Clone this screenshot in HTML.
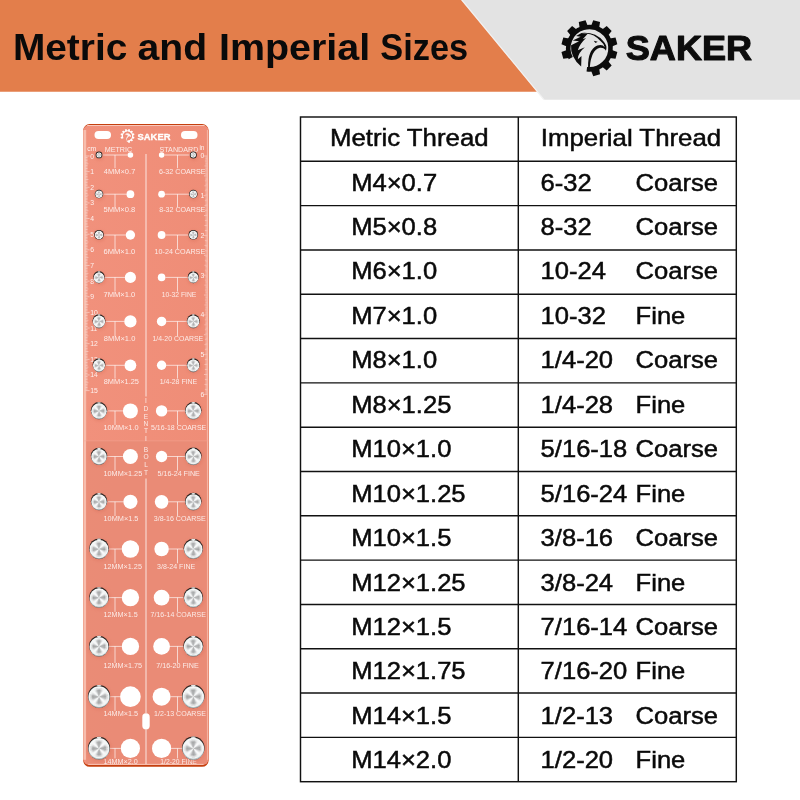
<!DOCTYPE html>
<html lang="en"><head><meta charset="utf-8"><title>Metric and Imperial Sizes</title>
<style>
html,body{margin:0;padding:0;background:#fff;}
body{width:800px;height:800px;overflow:hidden;position:relative;font-family:"Liberation Sans",sans-serif;}
svg{position:absolute;left:0;top:0;display:block;}
text{font-family:"Liberation Sans",sans-serif;}
</style></head><body>
<svg width="800" height="800" viewBox="0 0 800 800">
<defs>
<linearGradient id="pg" x1="0" y1="0" x2="1" y2="0"><stop offset="0" stop-color="#F1917C"/><stop offset="1" stop-color="#EF8D77"/></linearGradient>
<filter id="b1" x="-20%" y="-20%" width="140%" height="140%"><feGaussianBlur stdDeviation="0.35"/></filter>
<filter id="b2" x="-50%" y="-50%" width="200%" height="200%"><feGaussianBlur stdDeviation="1.6"/></filter>
</defs>
<rect width="800" height="800" fill="#fff"/>
<polygon points="461,0 800,0 800,99.8 543.4,99.8" fill="#E3E3E3"/>
<polygon points="0,0 461,0 536.8,91.7 0,91.7" fill="#E37E4B"/>
<line x1="461.9" y1="0" x2="544.2" y2="99.8" stroke="#fff" stroke-width="1.1" stroke-opacity="0.55"/>
<g id="title" font-size="36.5" font-weight="700" fill="#0a0a0a">
<text transform="translate(12.94 59.7) scale(1.0641 1)">Metric</text>
<text transform="translate(137.53 59.7) scale(1.0732 1)">and</text>
<text transform="translate(219.00 59.7) scale(1.0805 1)">Imperial</text>
<text transform="translate(380.36 59.7) scale(0.9410 1)">Sizes</text>
</g>
<g id="logo" fill="#0c0c0c">
<path d="M611.93,49.93 L617.34,52.05 L615.52,58.84 L609.78,57.97Z M608.05,60.97 L611.67,65.50 L606.70,70.47 L602.17,66.85Z M599.17,68.58 L600.04,74.32 L593.25,76.14 L591.13,70.73Z M569.02,57.97 L563.28,58.84 L561.46,52.05 L566.87,49.93Z M566.87,46.47 L561.46,44.35 L563.28,37.56 L569.02,38.43Z M570.75,35.43 L567.13,30.90 L572.10,25.93 L576.63,29.55Z M579.63,27.82 L578.76,22.08 L585.55,20.26 L587.67,25.67Z M591.13,25.67 L593.25,20.26 L600.04,22.08 L599.17,27.82Z M602.17,29.55 L606.70,25.93 L611.67,30.90 L608.05,35.43Z M609.78,38.43 L615.52,37.56 L617.34,44.35 L611.93,46.47Z"/>
<path d="M570.73,58.13 A21.15,21.15 0 1 1 586.82,69.19" fill="none" stroke="#0c0c0c" stroke-width="4.6"/>
<path d="M581.50,32.94 L576.07,36.00 L580.62,36.87 L572.75,40.55 L579.05,41.25 L571.08,45.18 Q569.95,56.56 581.15,66.62 L581.50,55.94 L577.82,59.27 Q577.65,53.50 584.82,47.37 L577.82,50.17 Q579.31,44.31 586.05,37.92 L582.72,39.15 L587.45,34.07 Z"/>
<path d="M581.06,32.94 Q595.49,31.62 603.37,41.25 Q607.74,45.62 605.99,50.87 Q604.24,47.37 599.87,47.81 Q591.12,50.00 589.81,67.49 L588.06,67.49 Q587.62,50.00 597.24,45.62 Q602.49,43.87 604.68,47.37 Q604.24,43.87 600.74,41.25 Q593.74,33.81 586.75,33.81 Z"/>
<path d="M593.74,40.81 L597.68,41.68 L595.49,43.00 Z"/>
</g>
<text id="saker" transform="translate(625.70 60.2) scale(1.0044 1)" font-size="36" font-weight="700" fill="#0c0c0c" stroke="#0c0c0c" stroke-width="1.1" stroke-linejoin="round">SAKER</text>
<g id="table" stroke="#111" stroke-width="1.45" fill="none">
<rect x="300.5" y="117.0" width="435.79999999999995" height="664.70"/>
<line x1="518.3" y1="117.0" x2="518.3" y2="781.70"/>
<line x1="300.5" y1="161.31" x2="736.3" y2="161.31"/>
<line x1="300.5" y1="205.63" x2="736.3" y2="205.63"/>
<line x1="300.5" y1="249.94" x2="736.3" y2="249.94"/>
<line x1="300.5" y1="294.25" x2="736.3" y2="294.25"/>
<line x1="300.5" y1="338.56" x2="736.3" y2="338.56"/>
<line x1="300.5" y1="382.88" x2="736.3" y2="382.88"/>
<line x1="300.5" y1="427.19" x2="736.3" y2="427.19"/>
<line x1="300.5" y1="471.50" x2="736.3" y2="471.50"/>
<line x1="300.5" y1="515.82" x2="736.3" y2="515.82"/>
<line x1="300.5" y1="560.13" x2="736.3" y2="560.13"/>
<line x1="300.5" y1="604.44" x2="736.3" y2="604.44"/>
<line x1="300.5" y1="648.76" x2="736.3" y2="648.76"/>
<line x1="300.5" y1="693.07" x2="736.3" y2="693.07"/>
<line x1="300.5" y1="737.38" x2="736.3" y2="737.38"/>
</g>
<g id="ttext" font-size="24.5" fill="#0a0a0a" stroke="#0a0a0a" stroke-width="0.5">
<text transform="translate(329.89 145.8) scale(1.0537 1)">Metric Thread</text>
<text transform="translate(540.83 145.8) scale(1.0547 1)">Imperial Thread</text>
<text transform="translate(351.16 190.50) scale(1.044 1)">M4×0.7</text>
<text transform="translate(540.60 190.50) scale(1.044 1)">6-32</text>
<text transform="translate(635.50 190.50) scale(1.044 1)">Coarse</text>
<text transform="translate(351.16 234.95) scale(1.044 1)">M5×0.8</text>
<text transform="translate(540.60 234.95) scale(1.044 1)">8-32</text>
<text transform="translate(635.50 234.95) scale(1.044 1)">Coarse</text>
<text transform="translate(351.16 279.40) scale(1.044 1)">M6×1.0</text>
<text transform="translate(540.60 279.40) scale(1.044 1)">10-24</text>
<text transform="translate(635.50 279.40) scale(1.044 1)">Coarse</text>
<text transform="translate(351.16 323.85) scale(1.044 1)">M7×1.0</text>
<text transform="translate(540.60 323.85) scale(1.044 1)">10-32</text>
<text transform="translate(635.61 323.85) scale(1.044 1)">Fine</text>
<text transform="translate(351.16 368.30) scale(1.044 1)">M8×1.0</text>
<text transform="translate(540.60 368.30) scale(1.044 1)">1/4-20</text>
<text transform="translate(635.50 368.30) scale(1.044 1)">Coarse</text>
<text transform="translate(351.16 412.75) scale(1.044 1)">M8×1.25</text>
<text transform="translate(540.60 412.75) scale(1.044 1)">1/4-28</text>
<text transform="translate(635.61 412.75) scale(1.044 1)">Fine</text>
<text transform="translate(351.16 457.20) scale(1.044 1)">M10×1.0</text>
<text transform="translate(540.60 457.20) scale(1.044 1)">5/16-18</text>
<text transform="translate(635.50 457.20) scale(1.044 1)">Coarse</text>
<text transform="translate(351.16 501.65) scale(1.044 1)">M10×1.25</text>
<text transform="translate(540.60 501.65) scale(1.044 1)">5/16-24</text>
<text transform="translate(635.61 501.65) scale(1.044 1)">Fine</text>
<text transform="translate(351.16 546.10) scale(1.044 1)">M10×1.5</text>
<text transform="translate(540.60 546.10) scale(1.044 1)">3/8-16</text>
<text transform="translate(635.50 546.10) scale(1.044 1)">Coarse</text>
<text transform="translate(351.16 590.55) scale(1.044 1)">M12×1.25</text>
<text transform="translate(540.60 590.55) scale(1.044 1)">3/8-24</text>
<text transform="translate(635.61 590.55) scale(1.044 1)">Fine</text>
<text transform="translate(351.16 635.00) scale(1.044 1)">M12×1.5</text>
<text transform="translate(540.60 635.00) scale(1.044 1)">7/16-14</text>
<text transform="translate(635.50 635.00) scale(1.044 1)">Coarse</text>
<text transform="translate(351.16 679.45) scale(1.044 1)">M12×1.75</text>
<text transform="translate(540.60 679.45) scale(1.044 1)">7/16-20</text>
<text transform="translate(635.61 679.45) scale(1.044 1)">Fine</text>
<text transform="translate(351.16 723.90) scale(1.044 1)">M14×1.5</text>
<text transform="translate(540.60 723.90) scale(1.044 1)">1/2-13</text>
<text transform="translate(635.50 723.90) scale(1.044 1)">Coarse</text>
<text transform="translate(351.16 768.35) scale(1.044 1)">M14×2.0</text>
<text transform="translate(540.60 768.35) scale(1.044 1)">1/2-20</text>
<text transform="translate(635.61 768.35) scale(1.044 1)">Fine</text>
</g>
<g id="gauge">
<rect x="83.2" y="124.0" width="125.40" height="642.80" rx="6.5" fill="#C5400F"/>
<rect x="83.2" y="125.0" width="125.40" height="640.00" rx="6" fill="url(#pg)"/>
<rect x="83.4" y="130.0" width="2.8" height="629.80" fill="#F8C4B6" opacity="0.85"/>
<rect x="206.9" y="130.0" width="1.0" height="629.80" fill="#F8C4B6" opacity="0.8"/>
<rect x="88.2" y="763.8" width="115.40" height="0.9" fill="#FBD9CF" opacity="0.9"/>
<rect x="87.2" y="125.0" width="117.40" height="0.9" fill="#FBD3C8" opacity="0.95"/>
<rect x="86.2" y="441" width="120.40" height="322.60" fill="#E98B76" opacity="0.85"/>
<rect x="83.2" y="440.5" width="125.40" height="0.8" fill="#F4A996" opacity="0.6"/>
<g fill="#fff">
<rect x="94.5" y="131" width="16.5" height="8" rx="4"/>
<rect x="181" y="131" width="16.5" height="8" rx="4"/>
<rect x="142.3" y="713.2" width="7.4" height="16.2" rx="3.7"/>
</g>
<g fill="#fff">
<path d="M132.29,136.37 L134.43,136.95 L133.98,138.64 L131.83,138.07Z M131.46,138.71 L133.03,140.29 L131.79,141.53 L130.21,139.96Z M129.57,140.33 L130.14,142.48 L128.45,142.93 L127.87,140.79Z M123.17,138.07 L121.02,138.64 L120.57,136.95 L122.71,136.37Z M122.71,135.63 L120.57,135.05 L121.02,133.36 L123.17,133.93Z M123.54,133.29 L121.97,131.71 L123.21,130.47 L124.79,132.04Z M125.43,131.67 L124.86,129.52 L126.55,129.07 L127.13,131.21Z M127.87,131.21 L128.45,129.07 L130.14,129.52 L129.57,131.67Z M130.21,132.04 L131.79,130.47 L133.03,131.71 L131.46,133.29Z M131.83,133.93 L133.98,133.36 L134.43,135.05 L132.29,135.63Z"/>
<path d="M122.91,138.44 A5.2,5.2 0 1 1 126.87,141.16" fill="none" stroke="#fff" stroke-width="1.1"/>
<path d="M124.9,134.5 q2.5,-2.5 5.4,0.2 q1.2,1.2 0.6,2.4 q-1.2,-1.4 -2.6,-0.4 q-1.6,1.4 -1.8,4.2 q-1,-3.4 1.6,-5.2 q-2,-1.4 -3.2,-1.2z" opacity="0.9"/>
</g>
<text id="psaker" transform="translate(137.56 139.5) scale(0.960 1)" font-size="9.8" font-weight="700" fill="#fff" stroke="#fff" stroke-width="0.3">SAKER</text>
<g stroke="#fff" stroke-opacity="0.72" stroke-width="0.9" fill="none">
<g stroke-width="1.5" stroke-opacity="0.52"><line x1="146.0" y1="154" x2="146.0" y2="396.5"/>
<line x1="146.0" y1="478.5" x2="146.0" y2="713"/>
<line x1="146.0" y1="729.5" x2="146.0" y2="764"/></g>
<line x1="102.4" y1="155.0" x2="127.6" y2="155.0"/>
<line x1="115.0" y1="155.0" x2="115.0" y2="168.2"/>
<line x1="164.3" y1="155.0" x2="189.8" y2="155.0"/>
<line x1="177.5" y1="155.0" x2="177.5" y2="168.2"/>
<line x1="103.2" y1="194.2" x2="126.5" y2="194.2"/>
<line x1="115.0" y1="194.2" x2="115.0" y2="207.1"/>
<line x1="165.0" y1="194.2" x2="189.1" y2="194.2"/>
<line x1="177.5" y1="194.2" x2="177.5" y2="207.1"/>
<line x1="103.8" y1="235.0" x2="125.7" y2="235.0"/>
<line x1="115.0" y1="235.0" x2="115.0" y2="249.0"/>
<line x1="165.5" y1="235.0" x2="188.5" y2="235.0"/>
<line x1="177.5" y1="235.0" x2="177.5" y2="249.0"/>
<line x1="104.7" y1="277.4" x2="124.8" y2="277.4"/>
<line x1="115.0" y1="277.4" x2="115.0" y2="291.6"/>
<line x1="165.4" y1="277.4" x2="187.8" y2="277.4"/>
<line x1="177.5" y1="277.4" x2="177.5" y2="291.6"/>
<line x1="105.5" y1="321.4" x2="124.2" y2="321.4"/>
<line x1="115.0" y1="321.4" x2="115.0" y2="336.1"/>
<line x1="166.3" y1="321.4" x2="186.8" y2="321.4"/>
<line x1="177.5" y1="321.4" x2="177.5" y2="336.1"/>
<line x1="105.4" y1="365.3" x2="124.5" y2="365.3"/>
<line x1="115.0" y1="365.3" x2="115.0" y2="378.6"/>
<line x1="166.3" y1="365.3" x2="186.8" y2="365.3"/>
<line x1="177.5" y1="365.3" x2="177.5" y2="378.6"/>
<line x1="107.2" y1="410.9" x2="122.9" y2="410.9"/>
<line x1="115.0" y1="410.9" x2="115.0" y2="425.1"/>
<line x1="167.3" y1="410.9" x2="185.0" y2="410.9"/>
<line x1="177.5" y1="410.9" x2="177.5" y2="425.1"/>
<line x1="107.2" y1="456.5" x2="122.9" y2="456.5"/>
<line x1="115.0" y1="456.5" x2="115.0" y2="470.7"/>
<line x1="167.3" y1="456.5" x2="185.0" y2="456.5"/>
<line x1="177.5" y1="456.5" x2="177.5" y2="470.7"/>
<line x1="107.2" y1="501.8" x2="123.3" y2="501.8"/>
<line x1="115.0" y1="501.8" x2="115.0" y2="516.0"/>
<line x1="168.4" y1="501.8" x2="185.0" y2="501.8"/>
<line x1="177.5" y1="501.8" x2="177.5" y2="516.0"/>
<line x1="108.9" y1="549.0" x2="121.7" y2="549.0"/>
<line x1="115.0" y1="549.0" x2="115.0" y2="563.3"/>
<line x1="168.8" y1="549.0" x2="183.6" y2="549.0"/>
<line x1="177.5" y1="549.0" x2="177.5" y2="563.3"/>
<line x1="108.9" y1="597.6" x2="121.7" y2="597.6"/>
<line x1="115.0" y1="597.6" x2="115.0" y2="611.9"/>
<line x1="169.4" y1="597.6" x2="183.6" y2="597.6"/>
<line x1="177.5" y1="597.6" x2="177.5" y2="611.9"/>
<line x1="109.0" y1="646.4" x2="121.7" y2="646.4"/>
<line x1="115.0" y1="646.4" x2="115.0" y2="663.0"/>
<line x1="170.0" y1="646.4" x2="183.3" y2="646.4"/>
<line x1="177.5" y1="646.4" x2="177.5" y2="663.0"/>
<line x1="110.1" y1="696.7" x2="120.1" y2="696.7"/>
<line x1="115.0" y1="696.7" x2="115.0" y2="711.0"/>
<line x1="170.6" y1="696.7" x2="182.0" y2="696.7"/>
<line x1="177.5" y1="696.7" x2="177.5" y2="711.0"/>
<line x1="110.0" y1="748.4" x2="120.8" y2="748.4"/>
<line x1="115.0" y1="748.4" x2="115.0" y2="758.4"/>
<line x1="171.2" y1="748.4" x2="182.0" y2="748.4"/>
<line x1="177.5" y1="748.4" x2="177.5" y2="758.4"/>
</g>
<g stroke="#fff" stroke-opacity="0.8" stroke-width="0.55">
<line x1="85.6" y1="156.00" x2="89.6" y2="156.00"/>
<line x1="85.6" y1="157.56" x2="87.6" y2="157.56"/>
<line x1="85.6" y1="159.13" x2="87.6" y2="159.13"/>
<line x1="85.6" y1="160.69" x2="87.6" y2="160.69"/>
<line x1="85.6" y1="162.26" x2="87.6" y2="162.26"/>
<line x1="85.6" y1="163.82" x2="88.4" y2="163.82"/>
<line x1="85.6" y1="165.38" x2="87.6" y2="165.38"/>
<line x1="85.6" y1="166.95" x2="87.6" y2="166.95"/>
<line x1="85.6" y1="168.51" x2="87.6" y2="168.51"/>
<line x1="85.6" y1="170.08" x2="87.6" y2="170.08"/>
<line x1="85.6" y1="171.64" x2="89.6" y2="171.64"/>
<line x1="85.6" y1="173.20" x2="87.6" y2="173.20"/>
<line x1="85.6" y1="174.77" x2="87.6" y2="174.77"/>
<line x1="85.6" y1="176.33" x2="87.6" y2="176.33"/>
<line x1="85.6" y1="177.90" x2="87.6" y2="177.90"/>
<line x1="85.6" y1="179.46" x2="88.4" y2="179.46"/>
<line x1="85.6" y1="181.02" x2="87.6" y2="181.02"/>
<line x1="85.6" y1="182.59" x2="87.6" y2="182.59"/>
<line x1="85.6" y1="184.15" x2="87.6" y2="184.15"/>
<line x1="85.6" y1="185.72" x2="87.6" y2="185.72"/>
<line x1="85.6" y1="187.28" x2="89.6" y2="187.28"/>
<line x1="85.6" y1="188.84" x2="87.6" y2="188.84"/>
<line x1="85.6" y1="190.41" x2="87.6" y2="190.41"/>
<line x1="85.6" y1="191.97" x2="87.6" y2="191.97"/>
<line x1="85.6" y1="193.54" x2="87.6" y2="193.54"/>
<line x1="85.6" y1="195.10" x2="88.4" y2="195.10"/>
<line x1="85.6" y1="196.66" x2="87.6" y2="196.66"/>
<line x1="85.6" y1="198.23" x2="87.6" y2="198.23"/>
<line x1="85.6" y1="199.79" x2="87.6" y2="199.79"/>
<line x1="85.6" y1="201.36" x2="87.6" y2="201.36"/>
<line x1="85.6" y1="202.92" x2="89.6" y2="202.92"/>
<line x1="85.6" y1="204.48" x2="87.6" y2="204.48"/>
<line x1="85.6" y1="206.05" x2="87.6" y2="206.05"/>
<line x1="85.6" y1="207.61" x2="87.6" y2="207.61"/>
<line x1="85.6" y1="209.18" x2="87.6" y2="209.18"/>
<line x1="85.6" y1="210.74" x2="88.4" y2="210.74"/>
<line x1="85.6" y1="212.30" x2="87.6" y2="212.30"/>
<line x1="85.6" y1="213.87" x2="87.6" y2="213.87"/>
<line x1="85.6" y1="215.43" x2="87.6" y2="215.43"/>
<line x1="85.6" y1="217.00" x2="87.6" y2="217.00"/>
<line x1="85.6" y1="218.56" x2="89.6" y2="218.56"/>
<line x1="85.6" y1="220.12" x2="87.6" y2="220.12"/>
<line x1="85.6" y1="221.69" x2="87.6" y2="221.69"/>
<line x1="85.6" y1="223.25" x2="87.6" y2="223.25"/>
<line x1="85.6" y1="224.82" x2="87.6" y2="224.82"/>
<line x1="85.6" y1="226.38" x2="88.4" y2="226.38"/>
<line x1="85.6" y1="227.94" x2="87.6" y2="227.94"/>
<line x1="85.6" y1="229.51" x2="87.6" y2="229.51"/>
<line x1="85.6" y1="231.07" x2="87.6" y2="231.07"/>
<line x1="85.6" y1="232.64" x2="87.6" y2="232.64"/>
<line x1="85.6" y1="234.20" x2="89.6" y2="234.20"/>
<line x1="85.6" y1="235.76" x2="87.6" y2="235.76"/>
<line x1="85.6" y1="237.33" x2="87.6" y2="237.33"/>
<line x1="85.6" y1="238.89" x2="87.6" y2="238.89"/>
<line x1="85.6" y1="240.46" x2="87.6" y2="240.46"/>
<line x1="85.6" y1="242.02" x2="88.4" y2="242.02"/>
<line x1="85.6" y1="243.58" x2="87.6" y2="243.58"/>
<line x1="85.6" y1="245.15" x2="87.6" y2="245.15"/>
<line x1="85.6" y1="246.71" x2="87.6" y2="246.71"/>
<line x1="85.6" y1="248.28" x2="87.6" y2="248.28"/>
<line x1="85.6" y1="249.84" x2="89.6" y2="249.84"/>
<line x1="85.6" y1="251.40" x2="87.6" y2="251.40"/>
<line x1="85.6" y1="252.97" x2="87.6" y2="252.97"/>
<line x1="85.6" y1="254.53" x2="87.6" y2="254.53"/>
<line x1="85.6" y1="256.10" x2="87.6" y2="256.10"/>
<line x1="85.6" y1="257.66" x2="88.4" y2="257.66"/>
<line x1="85.6" y1="259.22" x2="87.6" y2="259.22"/>
<line x1="85.6" y1="260.79" x2="87.6" y2="260.79"/>
<line x1="85.6" y1="262.35" x2="87.6" y2="262.35"/>
<line x1="85.6" y1="263.92" x2="87.6" y2="263.92"/>
<line x1="85.6" y1="265.48" x2="89.6" y2="265.48"/>
<line x1="85.6" y1="267.04" x2="87.6" y2="267.04"/>
<line x1="85.6" y1="268.61" x2="87.6" y2="268.61"/>
<line x1="85.6" y1="270.17" x2="87.6" y2="270.17"/>
<line x1="85.6" y1="271.74" x2="87.6" y2="271.74"/>
<line x1="85.6" y1="273.30" x2="88.4" y2="273.30"/>
<line x1="85.6" y1="274.86" x2="87.6" y2="274.86"/>
<line x1="85.6" y1="276.43" x2="87.6" y2="276.43"/>
<line x1="85.6" y1="277.99" x2="87.6" y2="277.99"/>
<line x1="85.6" y1="279.56" x2="87.6" y2="279.56"/>
<line x1="85.6" y1="281.12" x2="89.6" y2="281.12"/>
<line x1="85.6" y1="282.68" x2="87.6" y2="282.68"/>
<line x1="85.6" y1="284.25" x2="87.6" y2="284.25"/>
<line x1="85.6" y1="285.81" x2="87.6" y2="285.81"/>
<line x1="85.6" y1="287.38" x2="87.6" y2="287.38"/>
<line x1="85.6" y1="288.94" x2="88.4" y2="288.94"/>
<line x1="85.6" y1="290.50" x2="87.6" y2="290.50"/>
<line x1="85.6" y1="292.07" x2="87.6" y2="292.07"/>
<line x1="85.6" y1="293.63" x2="87.6" y2="293.63"/>
<line x1="85.6" y1="295.20" x2="87.6" y2="295.20"/>
<line x1="85.6" y1="296.76" x2="89.6" y2="296.76"/>
<line x1="85.6" y1="298.32" x2="87.6" y2="298.32"/>
<line x1="85.6" y1="299.89" x2="87.6" y2="299.89"/>
<line x1="85.6" y1="301.45" x2="87.6" y2="301.45"/>
<line x1="85.6" y1="303.02" x2="87.6" y2="303.02"/>
<line x1="85.6" y1="304.58" x2="88.4" y2="304.58"/>
<line x1="85.6" y1="306.14" x2="87.6" y2="306.14"/>
<line x1="85.6" y1="307.71" x2="87.6" y2="307.71"/>
<line x1="85.6" y1="309.27" x2="87.6" y2="309.27"/>
<line x1="85.6" y1="310.84" x2="87.6" y2="310.84"/>
<line x1="85.6" y1="312.40" x2="89.6" y2="312.40"/>
<line x1="85.6" y1="313.96" x2="87.6" y2="313.96"/>
<line x1="85.6" y1="315.53" x2="87.6" y2="315.53"/>
<line x1="85.6" y1="317.09" x2="87.6" y2="317.09"/>
<line x1="85.6" y1="318.66" x2="87.6" y2="318.66"/>
<line x1="85.6" y1="320.22" x2="88.4" y2="320.22"/>
<line x1="85.6" y1="321.78" x2="87.6" y2="321.78"/>
<line x1="85.6" y1="323.35" x2="87.6" y2="323.35"/>
<line x1="85.6" y1="324.91" x2="87.6" y2="324.91"/>
<line x1="85.6" y1="326.48" x2="87.6" y2="326.48"/>
<line x1="85.6" y1="328.04" x2="89.6" y2="328.04"/>
<line x1="85.6" y1="329.60" x2="87.6" y2="329.60"/>
<line x1="85.6" y1="331.17" x2="87.6" y2="331.17"/>
<line x1="85.6" y1="332.73" x2="87.6" y2="332.73"/>
<line x1="85.6" y1="334.30" x2="87.6" y2="334.30"/>
<line x1="85.6" y1="335.86" x2="88.4" y2="335.86"/>
<line x1="85.6" y1="337.42" x2="87.6" y2="337.42"/>
<line x1="85.6" y1="338.99" x2="87.6" y2="338.99"/>
<line x1="85.6" y1="340.55" x2="87.6" y2="340.55"/>
<line x1="85.6" y1="342.12" x2="87.6" y2="342.12"/>
<line x1="85.6" y1="343.68" x2="89.6" y2="343.68"/>
<line x1="85.6" y1="345.24" x2="87.6" y2="345.24"/>
<line x1="85.6" y1="346.81" x2="87.6" y2="346.81"/>
<line x1="85.6" y1="348.37" x2="87.6" y2="348.37"/>
<line x1="85.6" y1="349.94" x2="87.6" y2="349.94"/>
<line x1="85.6" y1="351.50" x2="88.4" y2="351.50"/>
<line x1="85.6" y1="353.06" x2="87.6" y2="353.06"/>
<line x1="85.6" y1="354.63" x2="87.6" y2="354.63"/>
<line x1="85.6" y1="356.19" x2="87.6" y2="356.19"/>
<line x1="85.6" y1="357.76" x2="87.6" y2="357.76"/>
<line x1="85.6" y1="359.32" x2="89.6" y2="359.32"/>
<line x1="85.6" y1="360.88" x2="87.6" y2="360.88"/>
<line x1="85.6" y1="362.45" x2="87.6" y2="362.45"/>
<line x1="85.6" y1="364.01" x2="87.6" y2="364.01"/>
<line x1="85.6" y1="365.58" x2="87.6" y2="365.58"/>
<line x1="85.6" y1="367.14" x2="88.4" y2="367.14"/>
<line x1="85.6" y1="368.70" x2="87.6" y2="368.70"/>
<line x1="85.6" y1="370.27" x2="87.6" y2="370.27"/>
<line x1="85.6" y1="371.83" x2="87.6" y2="371.83"/>
<line x1="85.6" y1="373.40" x2="87.6" y2="373.40"/>
<line x1="85.6" y1="374.96" x2="89.6" y2="374.96"/>
<line x1="85.6" y1="376.52" x2="87.6" y2="376.52"/>
<line x1="85.6" y1="378.09" x2="87.6" y2="378.09"/>
<line x1="85.6" y1="379.65" x2="87.6" y2="379.65"/>
<line x1="85.6" y1="381.22" x2="87.6" y2="381.22"/>
<line x1="85.6" y1="382.78" x2="88.4" y2="382.78"/>
<line x1="85.6" y1="384.34" x2="87.6" y2="384.34"/>
<line x1="85.6" y1="385.91" x2="87.6" y2="385.91"/>
<line x1="85.6" y1="387.47" x2="87.6" y2="387.47"/>
<line x1="85.6" y1="389.04" x2="87.6" y2="389.04"/>
<line x1="85.6" y1="390.60" x2="89.6" y2="390.60"/>
<line x1="203.5" y1="156.00" x2="207.3" y2="156.00"/>
<line x1="205.4" y1="157.24" x2="207.3" y2="157.24" stroke-width="0.45"/>
<line x1="205.4" y1="158.48" x2="207.3" y2="158.48" stroke-width="0.45"/>
<line x1="205.4" y1="159.72" x2="207.3" y2="159.72" stroke-width="0.45"/>
<line x1="204.9" y1="160.97" x2="207.3" y2="160.97"/>
<line x1="205.4" y1="162.21" x2="207.3" y2="162.21" stroke-width="0.45"/>
<line x1="205.4" y1="163.45" x2="207.3" y2="163.45" stroke-width="0.45"/>
<line x1="205.4" y1="164.69" x2="207.3" y2="164.69" stroke-width="0.45"/>
<line x1="204.5" y1="165.93" x2="207.3" y2="165.93"/>
<line x1="205.4" y1="167.17" x2="207.3" y2="167.17" stroke-width="0.45"/>
<line x1="205.4" y1="168.41" x2="207.3" y2="168.41" stroke-width="0.45"/>
<line x1="205.4" y1="169.66" x2="207.3" y2="169.66" stroke-width="0.45"/>
<line x1="204.9" y1="170.90" x2="207.3" y2="170.90"/>
<line x1="205.4" y1="172.14" x2="207.3" y2="172.14" stroke-width="0.45"/>
<line x1="205.4" y1="173.38" x2="207.3" y2="173.38" stroke-width="0.45"/>
<line x1="205.4" y1="174.62" x2="207.3" y2="174.62" stroke-width="0.45"/>
<line x1="204.0" y1="175.86" x2="207.3" y2="175.86"/>
<line x1="205.4" y1="177.10" x2="207.3" y2="177.10" stroke-width="0.45"/>
<line x1="205.4" y1="178.35" x2="207.3" y2="178.35" stroke-width="0.45"/>
<line x1="205.4" y1="179.59" x2="207.3" y2="179.59" stroke-width="0.45"/>
<line x1="204.9" y1="180.83" x2="207.3" y2="180.83"/>
<line x1="205.4" y1="182.07" x2="207.3" y2="182.07" stroke-width="0.45"/>
<line x1="205.4" y1="183.31" x2="207.3" y2="183.31" stroke-width="0.45"/>
<line x1="205.4" y1="184.55" x2="207.3" y2="184.55" stroke-width="0.45"/>
<line x1="204.5" y1="185.79" x2="207.3" y2="185.79"/>
<line x1="205.4" y1="187.04" x2="207.3" y2="187.04" stroke-width="0.45"/>
<line x1="205.4" y1="188.28" x2="207.3" y2="188.28" stroke-width="0.45"/>
<line x1="205.4" y1="189.52" x2="207.3" y2="189.52" stroke-width="0.45"/>
<line x1="204.9" y1="190.76" x2="207.3" y2="190.76"/>
<line x1="205.4" y1="192.00" x2="207.3" y2="192.00" stroke-width="0.45"/>
<line x1="205.4" y1="193.24" x2="207.3" y2="193.24" stroke-width="0.45"/>
<line x1="205.4" y1="194.48" x2="207.3" y2="194.48" stroke-width="0.45"/>
<line x1="203.5" y1="195.73" x2="207.3" y2="195.73"/>
<line x1="205.4" y1="196.97" x2="207.3" y2="196.97" stroke-width="0.45"/>
<line x1="205.4" y1="198.21" x2="207.3" y2="198.21" stroke-width="0.45"/>
<line x1="205.4" y1="199.45" x2="207.3" y2="199.45" stroke-width="0.45"/>
<line x1="204.9" y1="200.69" x2="207.3" y2="200.69"/>
<line x1="205.4" y1="201.93" x2="207.3" y2="201.93" stroke-width="0.45"/>
<line x1="205.4" y1="203.17" x2="207.3" y2="203.17" stroke-width="0.45"/>
<line x1="205.4" y1="204.42" x2="207.3" y2="204.42" stroke-width="0.45"/>
<line x1="204.5" y1="205.66" x2="207.3" y2="205.66"/>
<line x1="205.4" y1="206.90" x2="207.3" y2="206.90" stroke-width="0.45"/>
<line x1="205.4" y1="208.14" x2="207.3" y2="208.14" stroke-width="0.45"/>
<line x1="205.4" y1="209.38" x2="207.3" y2="209.38" stroke-width="0.45"/>
<line x1="204.9" y1="210.62" x2="207.3" y2="210.62"/>
<line x1="205.4" y1="211.86" x2="207.3" y2="211.86" stroke-width="0.45"/>
<line x1="205.4" y1="213.11" x2="207.3" y2="213.11" stroke-width="0.45"/>
<line x1="205.4" y1="214.35" x2="207.3" y2="214.35" stroke-width="0.45"/>
<line x1="204.0" y1="215.59" x2="207.3" y2="215.59"/>
<line x1="205.4" y1="216.83" x2="207.3" y2="216.83" stroke-width="0.45"/>
<line x1="205.4" y1="218.07" x2="207.3" y2="218.07" stroke-width="0.45"/>
<line x1="205.4" y1="219.31" x2="207.3" y2="219.31" stroke-width="0.45"/>
<line x1="204.9" y1="220.55" x2="207.3" y2="220.55"/>
<line x1="205.4" y1="221.80" x2="207.3" y2="221.80" stroke-width="0.45"/>
<line x1="205.4" y1="223.04" x2="207.3" y2="223.04" stroke-width="0.45"/>
<line x1="205.4" y1="224.28" x2="207.3" y2="224.28" stroke-width="0.45"/>
<line x1="204.5" y1="225.52" x2="207.3" y2="225.52"/>
<line x1="205.4" y1="226.76" x2="207.3" y2="226.76" stroke-width="0.45"/>
<line x1="205.4" y1="228.00" x2="207.3" y2="228.00" stroke-width="0.45"/>
<line x1="205.4" y1="229.24" x2="207.3" y2="229.24" stroke-width="0.45"/>
<line x1="204.9" y1="230.49" x2="207.3" y2="230.49"/>
<line x1="205.4" y1="231.73" x2="207.3" y2="231.73" stroke-width="0.45"/>
<line x1="205.4" y1="232.97" x2="207.3" y2="232.97" stroke-width="0.45"/>
<line x1="205.4" y1="234.21" x2="207.3" y2="234.21" stroke-width="0.45"/>
<line x1="203.5" y1="235.45" x2="207.3" y2="235.45"/>
<line x1="205.4" y1="236.69" x2="207.3" y2="236.69" stroke-width="0.45"/>
<line x1="205.4" y1="237.93" x2="207.3" y2="237.93" stroke-width="0.45"/>
<line x1="205.4" y1="239.18" x2="207.3" y2="239.18" stroke-width="0.45"/>
<line x1="204.9" y1="240.42" x2="207.3" y2="240.42"/>
<line x1="205.4" y1="241.66" x2="207.3" y2="241.66" stroke-width="0.45"/>
<line x1="205.4" y1="242.90" x2="207.3" y2="242.90" stroke-width="0.45"/>
<line x1="205.4" y1="244.14" x2="207.3" y2="244.14" stroke-width="0.45"/>
<line x1="204.5" y1="245.38" x2="207.3" y2="245.38"/>
<line x1="205.4" y1="246.62" x2="207.3" y2="246.62" stroke-width="0.45"/>
<line x1="205.4" y1="247.87" x2="207.3" y2="247.87" stroke-width="0.45"/>
<line x1="205.4" y1="249.11" x2="207.3" y2="249.11" stroke-width="0.45"/>
<line x1="204.9" y1="250.35" x2="207.3" y2="250.35"/>
<line x1="205.4" y1="251.59" x2="207.3" y2="251.59" stroke-width="0.45"/>
<line x1="205.4" y1="252.83" x2="207.3" y2="252.83" stroke-width="0.45"/>
<line x1="205.4" y1="254.07" x2="207.3" y2="254.07" stroke-width="0.45"/>
<line x1="204.0" y1="255.31" x2="207.3" y2="255.31"/>
<line x1="205.4" y1="256.56" x2="207.3" y2="256.56" stroke-width="0.45"/>
<line x1="205.4" y1="257.80" x2="207.3" y2="257.80" stroke-width="0.45"/>
<line x1="205.4" y1="259.04" x2="207.3" y2="259.04" stroke-width="0.45"/>
<line x1="204.9" y1="260.28" x2="207.3" y2="260.28"/>
<line x1="205.4" y1="261.52" x2="207.3" y2="261.52" stroke-width="0.45"/>
<line x1="205.4" y1="262.76" x2="207.3" y2="262.76" stroke-width="0.45"/>
<line x1="205.4" y1="264.00" x2="207.3" y2="264.00" stroke-width="0.45"/>
<line x1="204.5" y1="265.25" x2="207.3" y2="265.25"/>
<line x1="205.4" y1="266.49" x2="207.3" y2="266.49" stroke-width="0.45"/>
<line x1="205.4" y1="267.73" x2="207.3" y2="267.73" stroke-width="0.45"/>
<line x1="205.4" y1="268.97" x2="207.3" y2="268.97" stroke-width="0.45"/>
<line x1="204.9" y1="270.21" x2="207.3" y2="270.21"/>
<line x1="205.4" y1="271.45" x2="207.3" y2="271.45" stroke-width="0.45"/>
<line x1="205.4" y1="272.69" x2="207.3" y2="272.69" stroke-width="0.45"/>
<line x1="205.4" y1="273.94" x2="207.3" y2="273.94" stroke-width="0.45"/>
<line x1="203.5" y1="275.18" x2="207.3" y2="275.18"/>
<line x1="205.4" y1="276.42" x2="207.3" y2="276.42" stroke-width="0.45"/>
<line x1="205.4" y1="277.66" x2="207.3" y2="277.66" stroke-width="0.45"/>
<line x1="205.4" y1="278.90" x2="207.3" y2="278.90" stroke-width="0.45"/>
<line x1="204.9" y1="280.14" x2="207.3" y2="280.14"/>
<line x1="205.4" y1="281.38" x2="207.3" y2="281.38" stroke-width="0.45"/>
<line x1="205.4" y1="282.63" x2="207.3" y2="282.63" stroke-width="0.45"/>
<line x1="205.4" y1="283.87" x2="207.3" y2="283.87" stroke-width="0.45"/>
<line x1="204.5" y1="285.11" x2="207.3" y2="285.11"/>
<line x1="205.4" y1="286.35" x2="207.3" y2="286.35" stroke-width="0.45"/>
<line x1="205.4" y1="287.59" x2="207.3" y2="287.59" stroke-width="0.45"/>
<line x1="205.4" y1="288.83" x2="207.3" y2="288.83" stroke-width="0.45"/>
<line x1="204.9" y1="290.07" x2="207.3" y2="290.07"/>
<line x1="205.4" y1="291.32" x2="207.3" y2="291.32" stroke-width="0.45"/>
<line x1="205.4" y1="292.56" x2="207.3" y2="292.56" stroke-width="0.45"/>
<line x1="205.4" y1="293.80" x2="207.3" y2="293.80" stroke-width="0.45"/>
<line x1="204.0" y1="295.04" x2="207.3" y2="295.04"/>
<line x1="205.4" y1="296.28" x2="207.3" y2="296.28" stroke-width="0.45"/>
<line x1="205.4" y1="297.52" x2="207.3" y2="297.52" stroke-width="0.45"/>
<line x1="205.4" y1="298.76" x2="207.3" y2="298.76" stroke-width="0.45"/>
<line x1="204.9" y1="300.01" x2="207.3" y2="300.01"/>
<line x1="205.4" y1="301.25" x2="207.3" y2="301.25" stroke-width="0.45"/>
<line x1="205.4" y1="302.49" x2="207.3" y2="302.49" stroke-width="0.45"/>
<line x1="205.4" y1="303.73" x2="207.3" y2="303.73" stroke-width="0.45"/>
<line x1="204.5" y1="304.97" x2="207.3" y2="304.97"/>
<line x1="205.4" y1="306.21" x2="207.3" y2="306.21" stroke-width="0.45"/>
<line x1="205.4" y1="307.45" x2="207.3" y2="307.45" stroke-width="0.45"/>
<line x1="205.4" y1="308.70" x2="207.3" y2="308.70" stroke-width="0.45"/>
<line x1="204.9" y1="309.94" x2="207.3" y2="309.94"/>
<line x1="205.4" y1="311.18" x2="207.3" y2="311.18" stroke-width="0.45"/>
<line x1="205.4" y1="312.42" x2="207.3" y2="312.42" stroke-width="0.45"/>
<line x1="205.4" y1="313.66" x2="207.3" y2="313.66" stroke-width="0.45"/>
<line x1="203.5" y1="314.90" x2="207.3" y2="314.90"/>
<line x1="205.4" y1="316.14" x2="207.3" y2="316.14" stroke-width="0.45"/>
<line x1="205.4" y1="317.39" x2="207.3" y2="317.39" stroke-width="0.45"/>
<line x1="205.4" y1="318.63" x2="207.3" y2="318.63" stroke-width="0.45"/>
<line x1="204.9" y1="319.87" x2="207.3" y2="319.87"/>
<line x1="205.4" y1="321.11" x2="207.3" y2="321.11" stroke-width="0.45"/>
<line x1="205.4" y1="322.35" x2="207.3" y2="322.35" stroke-width="0.45"/>
<line x1="205.4" y1="323.59" x2="207.3" y2="323.59" stroke-width="0.45"/>
<line x1="204.5" y1="324.83" x2="207.3" y2="324.83"/>
<line x1="205.4" y1="326.08" x2="207.3" y2="326.08" stroke-width="0.45"/>
<line x1="205.4" y1="327.32" x2="207.3" y2="327.32" stroke-width="0.45"/>
<line x1="205.4" y1="328.56" x2="207.3" y2="328.56" stroke-width="0.45"/>
<line x1="204.9" y1="329.80" x2="207.3" y2="329.80"/>
<line x1="205.4" y1="331.04" x2="207.3" y2="331.04" stroke-width="0.45"/>
<line x1="205.4" y1="332.28" x2="207.3" y2="332.28" stroke-width="0.45"/>
<line x1="205.4" y1="333.52" x2="207.3" y2="333.52" stroke-width="0.45"/>
<line x1="204.0" y1="334.77" x2="207.3" y2="334.77"/>
<line x1="205.4" y1="336.01" x2="207.3" y2="336.01" stroke-width="0.45"/>
<line x1="205.4" y1="337.25" x2="207.3" y2="337.25" stroke-width="0.45"/>
<line x1="205.4" y1="338.49" x2="207.3" y2="338.49" stroke-width="0.45"/>
<line x1="204.9" y1="339.73" x2="207.3" y2="339.73"/>
<line x1="205.4" y1="340.97" x2="207.3" y2="340.97" stroke-width="0.45"/>
<line x1="205.4" y1="342.21" x2="207.3" y2="342.21" stroke-width="0.45"/>
<line x1="205.4" y1="343.46" x2="207.3" y2="343.46" stroke-width="0.45"/>
<line x1="204.5" y1="344.70" x2="207.3" y2="344.70"/>
<line x1="205.4" y1="345.94" x2="207.3" y2="345.94" stroke-width="0.45"/>
<line x1="205.4" y1="347.18" x2="207.3" y2="347.18" stroke-width="0.45"/>
<line x1="205.4" y1="348.42" x2="207.3" y2="348.42" stroke-width="0.45"/>
<line x1="204.9" y1="349.66" x2="207.3" y2="349.66"/>
<line x1="205.4" y1="350.90" x2="207.3" y2="350.90" stroke-width="0.45"/>
<line x1="205.4" y1="352.15" x2="207.3" y2="352.15" stroke-width="0.45"/>
<line x1="205.4" y1="353.39" x2="207.3" y2="353.39" stroke-width="0.45"/>
<line x1="203.5" y1="354.63" x2="207.3" y2="354.63"/>
<line x1="205.4" y1="355.87" x2="207.3" y2="355.87" stroke-width="0.45"/>
<line x1="205.4" y1="357.11" x2="207.3" y2="357.11" stroke-width="0.45"/>
<line x1="205.4" y1="358.35" x2="207.3" y2="358.35" stroke-width="0.45"/>
<line x1="204.9" y1="359.59" x2="207.3" y2="359.59"/>
<line x1="205.4" y1="360.84" x2="207.3" y2="360.84" stroke-width="0.45"/>
<line x1="205.4" y1="362.08" x2="207.3" y2="362.08" stroke-width="0.45"/>
<line x1="205.4" y1="363.32" x2="207.3" y2="363.32" stroke-width="0.45"/>
<line x1="204.5" y1="364.56" x2="207.3" y2="364.56"/>
<line x1="205.4" y1="365.80" x2="207.3" y2="365.80" stroke-width="0.45"/>
<line x1="205.4" y1="367.04" x2="207.3" y2="367.04" stroke-width="0.45"/>
<line x1="205.4" y1="368.28" x2="207.3" y2="368.28" stroke-width="0.45"/>
<line x1="204.9" y1="369.53" x2="207.3" y2="369.53"/>
<line x1="205.4" y1="370.77" x2="207.3" y2="370.77" stroke-width="0.45"/>
<line x1="205.4" y1="372.01" x2="207.3" y2="372.01" stroke-width="0.45"/>
<line x1="205.4" y1="373.25" x2="207.3" y2="373.25" stroke-width="0.45"/>
<line x1="204.0" y1="374.49" x2="207.3" y2="374.49"/>
<line x1="205.4" y1="375.73" x2="207.3" y2="375.73" stroke-width="0.45"/>
<line x1="205.4" y1="376.97" x2="207.3" y2="376.97" stroke-width="0.45"/>
<line x1="205.4" y1="378.22" x2="207.3" y2="378.22" stroke-width="0.45"/>
<line x1="204.9" y1="379.46" x2="207.3" y2="379.46"/>
<line x1="205.4" y1="380.70" x2="207.3" y2="380.70" stroke-width="0.45"/>
<line x1="205.4" y1="381.94" x2="207.3" y2="381.94" stroke-width="0.45"/>
<line x1="205.4" y1="383.18" x2="207.3" y2="383.18" stroke-width="0.45"/>
<line x1="204.5" y1="384.42" x2="207.3" y2="384.42"/>
<line x1="205.4" y1="385.66" x2="207.3" y2="385.66" stroke-width="0.45"/>
<line x1="205.4" y1="386.91" x2="207.3" y2="386.91" stroke-width="0.45"/>
<line x1="205.4" y1="388.15" x2="207.3" y2="388.15" stroke-width="0.45"/>
<line x1="204.9" y1="389.39" x2="207.3" y2="389.39"/>
<line x1="205.4" y1="390.63" x2="207.3" y2="390.63" stroke-width="0.45"/>
<line x1="205.4" y1="391.87" x2="207.3" y2="391.87" stroke-width="0.45"/>
<line x1="205.4" y1="393.11" x2="207.3" y2="393.11" stroke-width="0.45"/>
<line x1="203.5" y1="394.35" x2="207.3" y2="394.35"/>
</g>
<g fill="#fff" fill-opacity="0.88" font-size="6.8">
<text x="87.2" y="151.3" font-size="6.8">cm</text>
<text x="199.4" y="149.9" font-size="6.4">in</text>
<text x="90.2" y="158.50">0</text>
<text x="90.2" y="174.14">1</text>
<text x="90.2" y="189.78">2</text>
<text x="90.2" y="205.42">3</text>
<text x="90.2" y="221.06">4</text>
<text x="90.2" y="236.70">5</text>
<text x="90.2" y="252.34">6</text>
<text x="90.2" y="267.98">7</text>
<text x="90.2" y="283.62">8</text>
<text x="90.2" y="299.26">9</text>
<text x="90.2" y="314.90">10</text>
<text x="90.2" y="330.54">11</text>
<text x="90.2" y="346.18">12</text>
<text x="90.2" y="361.82">13</text>
<text x="90.2" y="377.46">14</text>
<text x="90.2" y="393.10">15</text>
<text x="200.4" y="158.40">0</text>
<text x="200.4" y="198.13">1</text>
<text x="200.4" y="237.85">2</text>
<text x="200.4" y="277.58">3</text>
<text x="200.4" y="317.30">4</text>
<text x="200.4" y="357.03">5</text>
<text x="200.4" y="396.75">6</text>
</g>
<g fill="#fff" fill-opacity="0.82" font-size="7.3" id="glabels" filter="url(#b1)">
<text transform="translate(104.71 151.80) scale(0.985 1)">METRIC</text>
<text transform="translate(159.51 151.80) scale(0.981 1)">STANDARD</text>
<text transform="translate(103.74 173.50) scale(1.033 1)">4MM×0.7</text>
<text transform="translate(159.01 173.50) scale(0.978 1)">6-32 COARSE</text>
<text transform="translate(103.48 212.40) scale(1.042 1)">5MM×0.8</text>
<text transform="translate(159.26 212.40) scale(0.973 1)">8-32 COARSE</text>
<text transform="translate(103.48 254.30) scale(1.042 1)">6MM×1.0</text>
<text transform="translate(154.51 254.30) scale(0.985 1)">10-24 COARSE</text>
<text transform="translate(103.48 296.90) scale(1.042 1)">7MM×1.0</text>
<text transform="translate(161.74 296.90) scale(0.929 1)">10-32 FINE</text>
<text transform="translate(103.74 341.40) scale(1.033 1)">8MM×1.0</text>
<text transform="translate(152.43 341.40) scale(0.950 1)">1/4-20 COARSE</text>
<text transform="translate(103.75 383.90) scale(1.015 1)">8MM×1.25</text>
<text transform="translate(159.72 383.90) scale(0.956 1)">1/4-28 FINE</text>
<text transform="translate(103.49 430.40) scale(1.015 1)">10MM×1.0</text>
<text transform="translate(151.02 430.40) scale(0.960 1)">5/16-18 COARSE</text>
<text transform="translate(103.50 476.00) scale(1.000 1)">10MM×1.25</text>
<text transform="translate(157.51 476.00) scale(0.976 1)">5/16-24 FINE</text>
<text transform="translate(103.50 521.30) scale(1.007 1)">10MM×1.5</text>
<text transform="translate(153.76 521.30) scale(0.972 1)">3/8-16 COARSE</text>
<text transform="translate(103.50 568.60) scale(0.992 1)">12MM×1.25</text>
<text transform="translate(157.06 568.60) scale(0.970 1)">3/8-24 FINE</text>
<text transform="translate(103.51 617.20) scale(0.987 1)">12MM×1.5</text>
<text transform="translate(150.62 617.20) scale(0.960 1)">7/16-14 COARSE</text>
<text transform="translate(103.50 668.30) scale(0.997 1)">12MM×1.75</text>
<text transform="translate(156.21 668.30) scale(0.981 1)">7/16-20 FINE</text>
<text transform="translate(103.50 716.30) scale(0.999 1)">14MM×1.5</text>
<text transform="translate(154.12 716.30) scale(0.967 1)">1/2-13 COARSE</text>
<text transform="translate(103.50 763.70) scale(0.991 1)">14MM×2.0</text>
<text transform="translate(160.34 763.70) scale(0.930 1)">1/2-20 FINE</text>
<text x="146.0" y="403.2" font-size="6.6" text-anchor="middle">I</text>
<text x="146.0" y="411.2" font-size="6.6" text-anchor="middle">D</text>
<text x="146.0" y="418.5" font-size="6.6" text-anchor="middle">E</text>
<text x="146.0" y="425.8" font-size="6.6" text-anchor="middle">N</text>
<text x="146.0" y="432.9" font-size="6.6" text-anchor="middle">T</text>
<text x="146.0" y="441.2" font-size="6.6" text-anchor="middle">I</text>
<text x="146.0" y="452.2" font-size="6.6" text-anchor="middle">B</text>
<text x="146.0" y="459.4" font-size="6.6" text-anchor="middle">O</text>
<text x="146.0" y="467.2" font-size="6.6" text-anchor="middle">L</text>
<text x="146.0" y="474.8" font-size="6.6" text-anchor="middle">T</text>
</g>
<g fill="#fff">
<circle cx="130.4" cy="155.0" r="2.8"/>
<circle cx="161.6" cy="155.0" r="2.75"/>
<circle cx="130.4" cy="194.2" r="3.9"/>
<circle cx="161.6" cy="194.2" r="3.4"/>
<circle cx="130.4" cy="235.0" r="4.7"/>
<circle cx="161.6" cy="235.0" r="3.9"/>
<circle cx="130.4" cy="277.4" r="5.6"/>
<circle cx="161.6" cy="277.4" r="3.8"/>
<circle cx="130.4" cy="321.4" r="6.15"/>
<circle cx="161.6" cy="321.4" r="4.75"/>
<circle cx="130.4" cy="365.3" r="5.9"/>
<circle cx="161.6" cy="365.3" r="4.7"/>
<circle cx="130.4" cy="410.9" r="7.5"/>
<circle cx="161.6" cy="410.9" r="5.7"/>
<circle cx="130.4" cy="456.5" r="7.5"/>
<circle cx="161.6" cy="456.5" r="5.7"/>
<circle cx="130.4" cy="501.8" r="7.1"/>
<circle cx="161.6" cy="501.8" r="6.85"/>
<circle cx="130.4" cy="549.0" r="8.7"/>
<circle cx="161.6" cy="549.0" r="7.25"/>
<circle cx="130.4" cy="597.6" r="8.7"/>
<circle cx="161.6" cy="597.6" r="7.85"/>
<circle cx="130.4" cy="646.4" r="8.7"/>
<circle cx="161.6" cy="646.4" r="8.4"/>
<circle cx="130.4" cy="696.7" r="10.35"/>
<circle cx="161.6" cy="696.7" r="9.0"/>
<circle cx="130.4" cy="748.4" r="9.6"/>
<circle cx="161.6" cy="748.4" r="9.6"/>
</g>
<g fill="#D9705A" opacity="0.35" filter="url(#b2)">
<circle cx="99.5" cy="156.0" r="4.6"/>
<circle cx="193.8" cy="156.0" r="4.7"/>
<circle cx="99.5" cy="195.2" r="5.5"/>
<circle cx="193.8" cy="195.2" r="5.5"/>
<circle cx="99.5" cy="236.0" r="6.0"/>
<circle cx="193.8" cy="236.0" r="6.0"/>
<circle cx="99.5" cy="278.4" r="6.9"/>
<circle cx="193.8" cy="278.4" r="6.7"/>
<circle cx="99.5" cy="322.4" r="7.7"/>
<circle cx="193.8" cy="322.4" r="7.7"/>
<circle cx="99.5" cy="366.3" r="7.6"/>
<circle cx="193.8" cy="366.3" r="7.7"/>
<circle cx="99.5" cy="411.9" r="9.4"/>
<circle cx="193.8" cy="411.9" r="9.5"/>
<circle cx="99.5" cy="457.5" r="9.4"/>
<circle cx="193.8" cy="457.5" r="9.5"/>
<circle cx="99.5" cy="502.8" r="9.4"/>
<circle cx="193.8" cy="502.8" r="9.5"/>
<circle cx="99.5" cy="550.0" r="11.1"/>
<circle cx="193.8" cy="550.0" r="10.9"/>
<circle cx="99.5" cy="598.6" r="11.1"/>
<circle cx="193.8" cy="598.6" r="10.9"/>
<circle cx="99.5" cy="647.4" r="11.2"/>
<circle cx="193.8" cy="647.4" r="11.2"/>
<circle cx="99.5" cy="697.7" r="12.3"/>
<circle cx="193.8" cy="697.7" r="12.5"/>
<circle cx="99.5" cy="749.4" r="12.2"/>
<circle cx="193.8" cy="749.4" r="12.5"/>
</g>
<defs>
<radialGradient id="rimg" cx="0.5" cy="0.47" r="0.5"><stop offset="0.82" stop-color="#f6f8f8"/><stop offset="0.93" stop-color="#eef2f2"/><stop offset="1" stop-color="#b4c2c5"/></radialGradient>
<radialGradient id="fedge" cx="0.5" cy="0.5" r="0.5"><stop offset="0" stop-color="#f4f6f6" stop-opacity="0.55"/><stop offset="0.12" stop-color="#f4f6f6" stop-opacity="0"/><stop offset="0.72" stop-color="#f4f6f6" stop-opacity="0"/><stop offset="1" stop-color="#f4f6f6" stop-opacity="1"/></radialGradient>
<g id="scr">
<circle cx="0" cy="0" r="10" fill="url(#rimg)"/>
<g transform="translate(0 -0.25)">
<path d="M0,0 L8.00,0.00 A8.0,8.0 0 0 1 7.95,0.93Z" fill="rgb(150,151,152)"/>
<path d="M0,0 L7.96,0.84 A8.0,8.0 0 0 1 7.80,1.76Z" fill="rgb(156,157,158)"/>
<path d="M0,0 L7.83,1.66 A8.0,8.0 0 0 1 7.58,2.56Z" fill="rgb(169,170,171)"/>
<path d="M0,0 L7.61,2.47 A8.0,8.0 0 0 1 7.27,3.34Z" fill="rgb(188,189,190)"/>
<path d="M0,0 L7.31,3.25 A8.0,8.0 0 0 1 6.88,4.08Z" fill="rgb(210,211,212)"/>
<path d="M0,0 L6.93,4.00 A8.0,8.0 0 0 1 6.42,4.78Z" fill="rgb(231,232,233)"/>
<path d="M0,0 L6.47,4.70 A8.0,8.0 0 0 1 5.88,5.42Z" fill="rgb(245,246,247)"/>
<path d="M0,0 L5.95,5.35 A8.0,8.0 0 0 1 5.28,6.01Z" fill="rgb(250,251,252)"/>
<path d="M0,0 L5.35,5.95 A8.0,8.0 0 0 1 4.62,6.53Z" fill="rgb(244,245,246)"/>
<path d="M0,0 L4.70,6.47 A8.0,8.0 0 0 1 3.92,6.98Z" fill="rgb(229,230,231)"/>
<path d="M0,0 L4.00,6.93 A8.0,8.0 0 0 1 3.17,7.35Z" fill="rgb(208,209,210)"/>
<path d="M0,0 L3.25,7.31 A8.0,8.0 0 0 1 2.38,7.64Z" fill="rgb(185,186,187)"/>
<path d="M0,0 L2.47,7.61 A8.0,8.0 0 0 1 1.57,7.84Z" fill="rgb(167,168,169)"/>
<path d="M0,0 L1.66,7.83 A8.0,8.0 0 0 1 0.74,7.97Z" fill="rgb(155,156,157)"/>
<path d="M0,0 L0.84,7.96 A8.0,8.0 0 0 1 -0.10,8.00Z" fill="rgb(150,151,152)"/>
<path d="M0,0 L0.00,8.00 A8.0,8.0 0 0 1 -0.93,7.95Z" fill="rgb(150,151,152)"/>
<path d="M0,0 L-0.84,7.96 A8.0,8.0 0 0 1 -1.76,7.80Z" fill="rgb(156,157,158)"/>
<path d="M0,0 L-1.66,7.83 A8.0,8.0 0 0 1 -2.56,7.58Z" fill="rgb(169,170,171)"/>
<path d="M0,0 L-2.47,7.61 A8.0,8.0 0 0 1 -3.34,7.27Z" fill="rgb(188,189,190)"/>
<path d="M0,0 L-3.25,7.31 A8.0,8.0 0 0 1 -4.08,6.88Z" fill="rgb(210,211,212)"/>
<path d="M0,0 L-4.00,6.93 A8.0,8.0 0 0 1 -4.78,6.42Z" fill="rgb(231,232,233)"/>
<path d="M0,0 L-4.70,6.47 A8.0,8.0 0 0 1 -5.42,5.88Z" fill="rgb(245,246,247)"/>
<path d="M0,0 L-5.35,5.95 A8.0,8.0 0 0 1 -6.01,5.28Z" fill="rgb(250,251,252)"/>
<path d="M0,0 L-5.95,5.35 A8.0,8.0 0 0 1 -6.53,4.62Z" fill="rgb(244,245,246)"/>
<path d="M0,0 L-6.47,4.70 A8.0,8.0 0 0 1 -6.98,3.92Z" fill="rgb(229,230,231)"/>
<path d="M0,0 L-6.93,4.00 A8.0,8.0 0 0 1 -7.35,3.17Z" fill="rgb(208,209,210)"/>
<path d="M0,0 L-7.31,3.25 A8.0,8.0 0 0 1 -7.64,2.38Z" fill="rgb(185,186,187)"/>
<path d="M0,0 L-7.61,2.47 A8.0,8.0 0 0 1 -7.84,1.57Z" fill="rgb(167,168,169)"/>
<path d="M0,0 L-7.83,1.66 A8.0,8.0 0 0 1 -7.97,0.74Z" fill="rgb(155,156,157)"/>
<path d="M0,0 L-7.96,0.84 A8.0,8.0 0 0 1 -8.00,-0.10Z" fill="rgb(150,151,152)"/>
<path d="M0,0 L-8.00,0.00 A8.0,8.0 0 0 1 -7.95,-0.93Z" fill="rgb(150,151,152)"/>
<path d="M0,0 L-7.96,-0.84 A8.0,8.0 0 0 1 -7.80,-1.76Z" fill="rgb(156,157,158)"/>
<path d="M0,0 L-7.83,-1.66 A8.0,8.0 0 0 1 -7.58,-2.56Z" fill="rgb(169,170,171)"/>
<path d="M0,0 L-7.61,-2.47 A8.0,8.0 0 0 1 -7.27,-3.34Z" fill="rgb(188,189,190)"/>
<path d="M0,0 L-7.31,-3.25 A8.0,8.0 0 0 1 -6.88,-4.08Z" fill="rgb(210,211,212)"/>
<path d="M0,0 L-6.93,-4.00 A8.0,8.0 0 0 1 -6.42,-4.78Z" fill="rgb(231,232,233)"/>
<path d="M0,0 L-6.47,-4.70 A8.0,8.0 0 0 1 -5.88,-5.42Z" fill="rgb(245,246,247)"/>
<path d="M0,0 L-5.95,-5.35 A8.0,8.0 0 0 1 -5.28,-6.01Z" fill="rgb(250,251,252)"/>
<path d="M0,0 L-5.35,-5.95 A8.0,8.0 0 0 1 -4.62,-6.53Z" fill="rgb(244,245,246)"/>
<path d="M0,0 L-4.70,-6.47 A8.0,8.0 0 0 1 -3.92,-6.98Z" fill="rgb(229,230,231)"/>
<path d="M0,0 L-4.00,-6.93 A8.0,8.0 0 0 1 -3.17,-7.35Z" fill="rgb(208,209,210)"/>
<path d="M0,0 L-3.25,-7.31 A8.0,8.0 0 0 1 -2.38,-7.64Z" fill="rgb(185,186,187)"/>
<path d="M0,0 L-2.47,-7.61 A8.0,8.0 0 0 1 -1.57,-7.84Z" fill="rgb(167,168,169)"/>
<path d="M0,0 L-1.66,-7.83 A8.0,8.0 0 0 1 -0.74,-7.97Z" fill="rgb(155,156,157)"/>
<path d="M0,0 L-0.84,-7.96 A8.0,8.0 0 0 1 0.10,-8.00Z" fill="rgb(150,151,152)"/>
<path d="M0,0 L-0.00,-8.00 A8.0,8.0 0 0 1 0.93,-7.95Z" fill="rgb(150,151,152)"/>
<path d="M0,0 L0.84,-7.96 A8.0,8.0 0 0 1 1.76,-7.80Z" fill="rgb(156,157,158)"/>
<path d="M0,0 L1.66,-7.83 A8.0,8.0 0 0 1 2.56,-7.58Z" fill="rgb(169,170,171)"/>
<path d="M0,0 L2.47,-7.61 A8.0,8.0 0 0 1 3.34,-7.27Z" fill="rgb(188,189,190)"/>
<path d="M0,0 L3.25,-7.31 A8.0,8.0 0 0 1 4.08,-6.88Z" fill="rgb(210,211,212)"/>
<path d="M0,0 L4.00,-6.93 A8.0,8.0 0 0 1 4.78,-6.42Z" fill="rgb(231,232,233)"/>
<path d="M0,0 L4.70,-6.47 A8.0,8.0 0 0 1 5.42,-5.88Z" fill="rgb(245,246,247)"/>
<path d="M0,0 L5.35,-5.95 A8.0,8.0 0 0 1 6.01,-5.28Z" fill="rgb(250,251,252)"/>
<path d="M0,0 L5.95,-5.35 A8.0,8.0 0 0 1 6.53,-4.62Z" fill="rgb(244,245,246)"/>
<path d="M0,0 L6.47,-4.70 A8.0,8.0 0 0 1 6.98,-3.92Z" fill="rgb(229,230,231)"/>
<path d="M0,0 L6.93,-4.00 A8.0,8.0 0 0 1 7.35,-3.17Z" fill="rgb(208,209,210)"/>
<path d="M0,0 L7.31,-3.25 A8.0,8.0 0 0 1 7.64,-2.38Z" fill="rgb(185,186,187)"/>
<path d="M0,0 L7.61,-2.47 A8.0,8.0 0 0 1 7.84,-1.57Z" fill="rgb(167,168,169)"/>
<path d="M0,0 L7.83,-1.66 A8.0,8.0 0 0 1 7.97,-0.74Z" fill="rgb(155,156,157)"/>
<path d="M0,0 L7.96,-0.84 A8.0,8.0 0 0 1 8.00,0.10Z" fill="rgb(150,151,152)"/>
<circle cx="0" cy="0" r="8.15" fill="url(#fedge)"/>
</g>
</g>
</defs>
<circle cx="99.0" cy="154.90" r="3.40" fill="#2b2320"/>
<use href="#scr" transform="translate(99.0 155.00) scale(0.260)"/>
<circle cx="193.3" cy="154.90" r="3.50" fill="#2b2320"/>
<use href="#scr" transform="translate(193.3 155.00) scale(0.270)"/>
<circle cx="99.0" cy="193.95" r="4.25" fill="#2b2320"/>
<use href="#scr" transform="translate(99.0 194.30) scale(0.370)"/>
<circle cx="193.3" cy="193.95" r="4.25" fill="#2b2320"/>
<use href="#scr" transform="translate(193.3 194.30) scale(0.370)"/>
<circle cx="99.0" cy="234.75" r="4.80" fill="#2b2320"/>
<use href="#scr" transform="translate(99.0 235.10) scale(0.425)"/>
<circle cx="193.3" cy="234.75" r="4.80" fill="#2b2320"/>
<use href="#scr" transform="translate(193.3 235.10) scale(0.425)"/>
<circle cx="99.0" cy="276.75" r="5.70" fill="#2b2320"/>
<path d="M102.57,281.65 A5.55,5.55 0 0 1 95.43,281.65" fill="none" stroke="#33494d" stroke-width="0.9" opacity="0.75"/>
<ellipse cx="99.0" cy="271.85" rx="1.25" ry="0.7" fill="#e3e9e9"/>
<use href="#scr" transform="translate(99.0 277.70) scale(0.535)"/>
<circle cx="193.3" cy="276.75" r="5.50" fill="#2b2320"/>
<path d="M196.74,281.50 A5.35,5.35 0 0 1 189.86,281.50" fill="none" stroke="#33494d" stroke-width="0.9" opacity="0.75"/>
<ellipse cx="193.3" cy="272.05" rx="1.21" ry="0.7" fill="#e3e9e9"/>
<use href="#scr" transform="translate(193.3 277.70) scale(0.515)"/>
<circle cx="99.0" cy="320.75" r="6.50" fill="#2b2320"/>
<path d="M103.08,326.26 A6.35,6.35 0 0 1 94.92,326.26" fill="none" stroke="#33494d" stroke-width="0.9" opacity="0.75"/>
<ellipse cx="99.0" cy="315.05" rx="1.43" ry="0.7" fill="#e3e9e9"/>
<use href="#scr" transform="translate(99.0 321.70) scale(0.615)"/>
<circle cx="193.3" cy="320.75" r="6.50" fill="#2b2320"/>
<path d="M197.38,326.26 A6.35,6.35 0 0 1 189.22,326.26" fill="none" stroke="#33494d" stroke-width="0.9" opacity="0.75"/>
<ellipse cx="193.3" cy="315.05" rx="1.43" ry="0.7" fill="#e3e9e9"/>
<use href="#scr" transform="translate(193.3 321.70) scale(0.615)"/>
<circle cx="99.0" cy="364.65" r="6.40" fill="#2b2320"/>
<path d="M103.02,370.09 A6.25,6.25 0 0 1 94.98,370.09" fill="none" stroke="#33494d" stroke-width="0.9" opacity="0.75"/>
<ellipse cx="99.0" cy="359.05" rx="1.41" ry="0.7" fill="#e3e9e9"/>
<use href="#scr" transform="translate(99.0 365.60) scale(0.605)"/>
<circle cx="193.3" cy="364.65" r="6.50" fill="#2b2320"/>
<path d="M197.38,370.16 A6.35,6.35 0 0 1 189.22,370.16" fill="none" stroke="#33494d" stroke-width="0.9" opacity="0.75"/>
<ellipse cx="193.3" cy="358.95" rx="1.43" ry="0.7" fill="#e3e9e9"/>
<use href="#scr" transform="translate(193.3 365.60) scale(0.615)"/>
<circle cx="99.0" cy="410.25" r="8.20" fill="#2b2320"/>
<path d="M104.17,417.07 A8.05,8.05 0 0 1 93.83,417.07" fill="none" stroke="#33494d" stroke-width="0.9" opacity="0.75"/>
<ellipse cx="99.0" cy="402.85" rx="1.80" ry="0.7" fill="#e3e9e9"/>
<use href="#scr" transform="translate(99.0 411.20) scale(0.785)"/>
<circle cx="193.3" cy="410.25" r="8.30" fill="#2b2320"/>
<path d="M198.54,417.14 A8.15,8.15 0 0 1 188.06,417.14" fill="none" stroke="#33494d" stroke-width="0.9" opacity="0.75"/>
<ellipse cx="193.3" cy="402.75" rx="1.83" ry="0.7" fill="#e3e9e9"/>
<use href="#scr" transform="translate(193.3 411.20) scale(0.795)"/>
<circle cx="99.0" cy="455.85" r="8.20" fill="#2b2320"/>
<path d="M104.17,462.67 A8.05,8.05 0 0 1 93.83,462.67" fill="none" stroke="#33494d" stroke-width="0.9" opacity="0.75"/>
<ellipse cx="99.0" cy="448.45" rx="1.80" ry="0.7" fill="#e3e9e9"/>
<use href="#scr" transform="translate(99.0 456.80) scale(0.785)"/>
<circle cx="193.3" cy="455.85" r="8.30" fill="#2b2320"/>
<path d="M198.54,462.74 A8.15,8.15 0 0 1 188.06,462.74" fill="none" stroke="#33494d" stroke-width="0.9" opacity="0.75"/>
<ellipse cx="193.3" cy="448.35" rx="1.83" ry="0.7" fill="#e3e9e9"/>
<use href="#scr" transform="translate(193.3 456.80) scale(0.795)"/>
<circle cx="99.0" cy="501.15" r="8.20" fill="#2b2320"/>
<path d="M104.17,507.97 A8.05,8.05 0 0 1 93.83,507.97" fill="none" stroke="#33494d" stroke-width="0.9" opacity="0.75"/>
<ellipse cx="99.0" cy="493.75" rx="1.80" ry="0.7" fill="#e3e9e9"/>
<use href="#scr" transform="translate(99.0 502.10) scale(0.785)"/>
<circle cx="193.3" cy="501.15" r="8.30" fill="#2b2320"/>
<path d="M198.54,508.04 A8.15,8.15 0 0 1 188.06,508.04" fill="none" stroke="#33494d" stroke-width="0.9" opacity="0.75"/>
<ellipse cx="193.3" cy="493.65" rx="1.83" ry="0.7" fill="#e3e9e9"/>
<use href="#scr" transform="translate(193.3 502.10) scale(0.795)"/>
<circle cx="99.0" cy="548.35" r="9.90" fill="#2b2320"/>
<path d="M105.27,556.47 A9.75,9.75 0 0 1 92.73,556.47" fill="none" stroke="#33494d" stroke-width="0.9" opacity="0.75"/>
<ellipse cx="99.0" cy="539.25" rx="2.18" ry="0.7" fill="#e3e9e9"/>
<use href="#scr" transform="translate(99.0 549.30) scale(0.955)"/>
<circle cx="193.3" cy="548.35" r="9.70" fill="#2b2320"/>
<path d="M199.44,556.32 A9.55,9.55 0 0 1 187.16,556.32" fill="none" stroke="#33494d" stroke-width="0.9" opacity="0.75"/>
<ellipse cx="193.3" cy="539.45" rx="2.13" ry="0.7" fill="#e3e9e9"/>
<use href="#scr" transform="translate(193.3 549.30) scale(0.935)"/>
<circle cx="99.0" cy="596.95" r="9.90" fill="#2b2320"/>
<path d="M105.27,605.07 A9.75,9.75 0 0 1 92.73,605.07" fill="none" stroke="#33494d" stroke-width="0.9" opacity="0.75"/>
<ellipse cx="99.0" cy="587.85" rx="2.18" ry="0.7" fill="#e3e9e9"/>
<use href="#scr" transform="translate(99.0 597.90) scale(0.955)"/>
<circle cx="193.3" cy="596.95" r="9.70" fill="#2b2320"/>
<path d="M199.44,604.92 A9.55,9.55 0 0 1 187.16,604.92" fill="none" stroke="#33494d" stroke-width="0.9" opacity="0.75"/>
<ellipse cx="193.3" cy="588.05" rx="2.13" ry="0.7" fill="#e3e9e9"/>
<use href="#scr" transform="translate(193.3 597.90) scale(0.935)"/>
<circle cx="99.0" cy="645.75" r="10.00" fill="#2b2320"/>
<path d="M105.33,653.95 A9.85,9.85 0 0 1 92.67,653.95" fill="none" stroke="#33494d" stroke-width="0.9" opacity="0.75"/>
<ellipse cx="99.0" cy="636.55" rx="2.20" ry="0.7" fill="#e3e9e9"/>
<use href="#scr" transform="translate(99.0 646.70) scale(0.965)"/>
<circle cx="193.3" cy="645.75" r="10.00" fill="#2b2320"/>
<path d="M199.63,653.95 A9.85,9.85 0 0 1 186.97,653.95" fill="none" stroke="#33494d" stroke-width="0.9" opacity="0.75"/>
<ellipse cx="193.3" cy="636.55" rx="2.20" ry="0.7" fill="#e3e9e9"/>
<use href="#scr" transform="translate(193.3 646.70) scale(0.965)"/>
<circle cx="99.0" cy="696.05" r="11.10" fill="#2b2320"/>
<path d="M106.04,705.09 A10.95,10.95 0 0 1 91.96,705.09" fill="none" stroke="#33494d" stroke-width="0.9" opacity="0.75"/>
<ellipse cx="99.0" cy="685.75" rx="2.44" ry="0.7" fill="#e3e9e9"/>
<use href="#scr" transform="translate(99.0 697.00) scale(1.075)"/>
<circle cx="193.3" cy="696.05" r="11.30" fill="#2b2320"/>
<path d="M200.47,705.24 A11.15,11.15 0 0 1 186.13,705.24" fill="none" stroke="#33494d" stroke-width="0.9" opacity="0.75"/>
<ellipse cx="193.3" cy="685.55" rx="2.49" ry="0.7" fill="#e3e9e9"/>
<use href="#scr" transform="translate(193.3 697.00) scale(1.095)"/>
<circle cx="99.0" cy="747.75" r="11.00" fill="#2b2320"/>
<path d="M105.97,756.71 A10.85,10.85 0 0 1 92.03,756.71" fill="none" stroke="#33494d" stroke-width="0.9" opacity="0.75"/>
<ellipse cx="99.0" cy="737.55" rx="2.42" ry="0.7" fill="#e3e9e9"/>
<use href="#scr" transform="translate(99.0 748.70) scale(1.065)"/>
<circle cx="193.3" cy="747.75" r="11.30" fill="#2b2320"/>
<path d="M200.47,756.94 A11.15,11.15 0 0 1 186.13,756.94" fill="none" stroke="#33494d" stroke-width="0.9" opacity="0.75"/>
<ellipse cx="193.3" cy="737.25" rx="2.49" ry="0.7" fill="#e3e9e9"/>
<use href="#scr" transform="translate(193.3 748.70) scale(1.095)"/>
</g>
</svg>
</body></html>
